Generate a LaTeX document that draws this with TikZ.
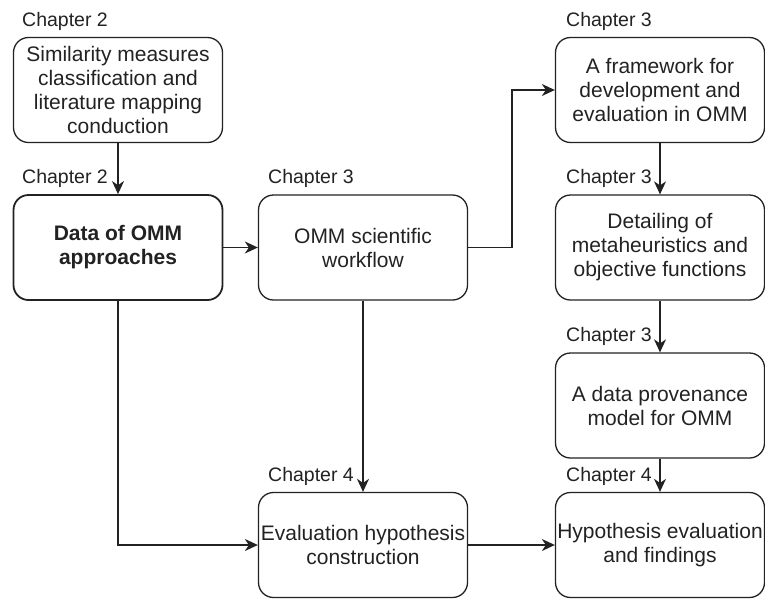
\documentclass[tikz,border=0pt]{standalone}
\usepackage{fontspec}
\setmainfont{Liberation Sans}
\usetikzlibrary{arrows.meta}
\definecolor{ink}{HTML}{222222}
\tikzset{
  stepbox/.style={draw=ink, line width=1.3pt, rounded corners=15pt,
    minimum width=209pt, minimum height=105pt, inner sep=0pt,
    align=center, text=ink, font=\fontsize{21}{24}\selectfont},
  keybox/.style={stepbox, line width=1.8pt, font=\fontsize{21}{24}\selectfont\bfseries},
  chap/.style={anchor=base west, inner sep=0pt, text=ink,
    font=\fontsize{19.5}{22}\selectfont},
  flow/.style={draw=ink, line width=1.3pt,
    -{Stealth[length=13pt, width=12pt, inset=4pt]}},
}
\begin{document}
\begin{tikzpicture}[x=1pt, y=-1pt]
  \useasboundingbox (0,0) rectangle (765,598);

  % left column
  \node[stepbox] (sim)  at (118,90)    {Similarity measures\\classification and\\literature mapping\\conduction};
  \node[keybox]  (data) at (118,247.5) {Data of OMM\\approaches};

  % middle column
  \node[stepbox] (wf)   at (363,247.5) {OMM scientific\\workflow};
  \node[stepbox] (hyp)  at (363,545)   {Evaluation hypothesis\\construction};

  % right column
  \node[stepbox] (fw)   at (660,90)    {A framework for\\development and\\evaluation in OMM};
  \node[stepbox] (meta) at (660,247.5) {Detailing of\\metaheuristics and\\objective functions};
  \node[stepbox] (prov) at (660,405.5) {A data provenance\\model for OMM};
  \node[stepbox] (eval) at (660,545)   {Hypothesis evaluation\\and findings};

  % chapter captions above the boxes
  \node[chap] (c1) at (22,26)    {Chapter 2};
  \node[chap] (c2) at (22,183.5) {Chapter 2};
  \node[chap] (c3) at (268,183.5){Chapter 3};
  \node[chap] (c4) at (566,26)   {Chapter 3};
  \node[chap] (c5) at (566,183.5){Chapter 3};
  \node[chap] (c6) at (566,341.5){Chapter 3};
  \node[chap] (c7) at (566,481.5){Chapter 4};
  \node[chap] (c8) at (268,481.5){Chapter 4};

  % connectors
  \coordinate (bendA) at (512,247.5);
  \coordinate (bendB) at (512,90);
  \coordinate (bendC) at (118,545);

  \draw[flow] (sim.south) -- (data.north);
  \draw[flow] (data.east) -- (wf.west);
  \draw[flow] (wf.east) -- (bendA) -- (bendB) -- (fw.west);
  \draw[flow] (fw.south) -- (meta.north);
  \draw[flow] (meta.south) -- (prov.north);
  \draw[flow] (prov.south) -- (eval.north);
  \draw[flow] (wf.south) -- (hyp.north);
  \draw[flow] (data.south) -- (bendC) -- (hyp.west);
  \draw[flow] (hyp.east) -- (eval.west);
\end{tikzpicture}
\end{document}
